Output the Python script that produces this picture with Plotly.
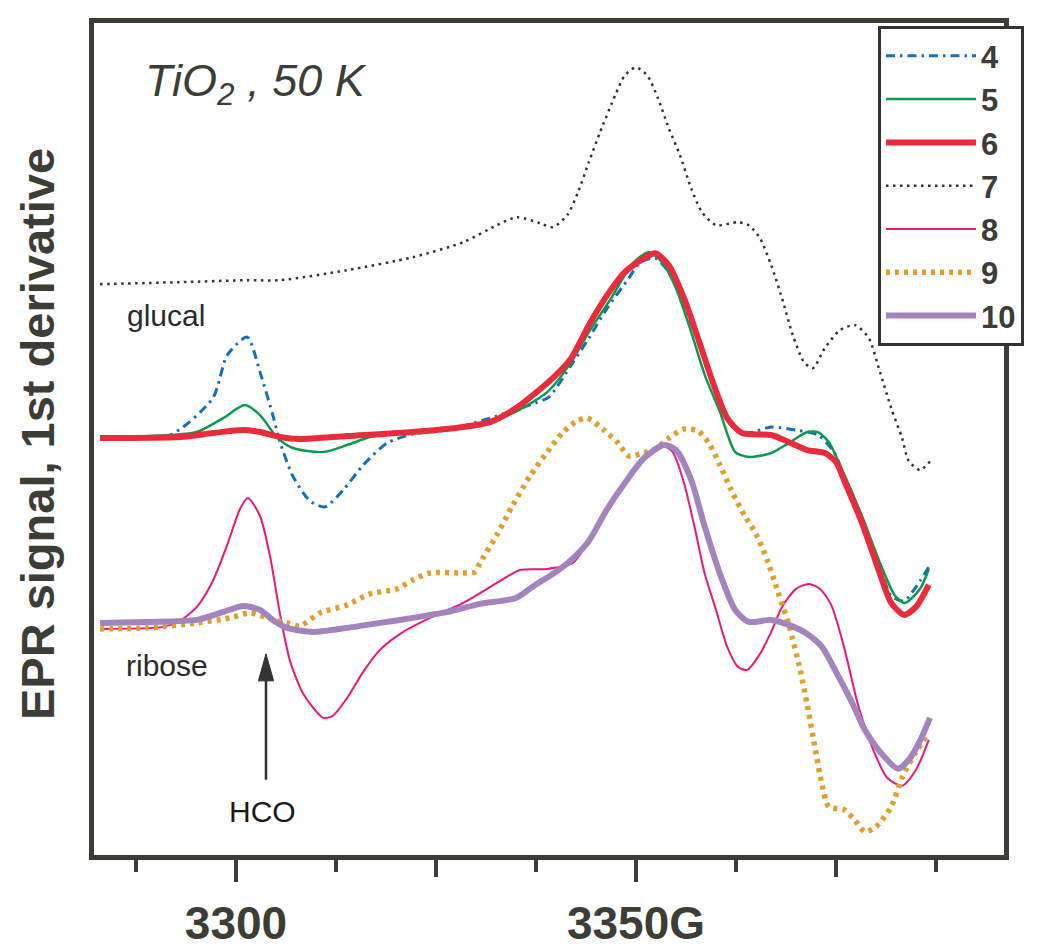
import plotly.graph_objects as go

# ---- data (field in gauss, EPR signal in arbitrary units) ----
names = ["4", "5", "6", "7", "8", "9", "10"]

field_4 = [3283.0, 3291.75, 3297.1, 3298.9, 3301.4, 3303.0, 3304.6, 3305.5, 3307.1, 3309.25, 3311.1, 3313.4,
           3315.9, 3318.9, 3322.1, 3326.4, 3332.6, 3337.4, 3339.1, 3341.9, 3344.1, 3346.4, 3349.1, 3350.5,
           3352.4, 3354.1, 3356.0, 3357.75, 3359.6, 3362.4, 3364.1, 3366.9, 3370.0, 3372.75, 3374.75, 3376.0,
           3378.25, 3380.5, 3381.9, 3383.5, 3385.5, 3386.6]
sig_4 = [419, 422, 459, 502, 520, 485, 442, 415, 381, 356, 350, 367,
         392, 414, 423, 427, 441, 454, 460, 492, 519, 549, 579, 595,
         599, 585, 552, 515, 472, 427, 424, 430, 427, 422, 405, 381,
         337, 290, 261, 256, 276, 290]

field_5 = [3283.0, 3291.75, 3295.1, 3298.4, 3301.1, 3303.0, 3305.1, 3307.1, 3310.9, 3313.9, 3316.75, 3320.1,
           3324.25, 3328.4, 3332.1, 3334.6, 3338.9, 3341.9, 3344.1, 3346.9, 3349.6, 3351.6, 3353.25, 3355.0,
           3356.9, 3358.6, 3360.5, 3362.4, 3364.1, 3366.9, 3369.1, 3371.4, 3372.75, 3374.1, 3375.5, 3378.25,
           3380.5, 3382.4, 3383.6, 3385.5, 3386.6]
sig_5 = [419, 422, 425, 439, 452, 442, 420, 409, 405, 412, 420, 424,
         427, 430, 437, 444, 465, 495, 525, 559, 594, 605, 595, 569,
         525, 482, 445, 405, 400, 404, 414, 425, 425, 415, 392, 341,
         294, 261, 254, 268, 288]

field_6 = [3283.0, 3293.0, 3297.1, 3300.9, 3303.0, 3305.5, 3308.0, 3313.9, 3322.1, 3328.4, 3331.75, 3335.0,
           3339.6, 3341.9, 3344.1, 3346.4, 3348.6, 3351.0, 3352.4, 3354.1, 3356.0, 3357.75, 3359.6, 3361.4,
           3363.25, 3366.9, 3369.1, 3371.4, 3373.6, 3375.0, 3376.0, 3378.25, 3380.5, 3381.9, 3383.5, 3385.0,
           3386.6]
sig_6 = [419, 420, 424, 427, 425, 420, 418, 421, 425, 430, 435, 449,
         479, 499, 532, 562, 585, 599, 604, 592, 559, 519, 475, 439,
         424, 422, 415, 407, 404, 395, 377, 334, 283, 254, 242, 250,
         272]

field_7 = [3283.0, 3293.0, 3301.4, 3305.5, 3313.9, 3322.1, 3328.4, 3332.6, 3335.1, 3338.0, 3339.6, 3341.4,
           3342.75, 3344.1, 3345.5, 3347.4, 3348.6, 3350.0, 3351.4, 3352.75, 3354.1, 3355.5, 3356.9, 3358.25,
           3360.0, 3362.75, 3364.1, 3365.5, 3366.9, 3368.25, 3369.6, 3371.0, 3372.1, 3373.6, 3375.5, 3377.4,
           3379.1, 3380.5, 3381.9, 3383.25, 3384.1, 3385.5, 3386.9]
sig_7 = [573, 575, 577, 577, 587, 600, 615, 632, 640, 634, 630, 642,
         665, 695, 725, 762, 782, 790, 782, 759, 729, 702, 669, 645,
         632, 635, 632, 619, 592, 559, 522, 495, 489, 509, 527, 532,
         519, 485, 449, 419, 396, 387, 397]

field_8 = [3283.0, 3290.9, 3293.0, 3295.1, 3297.1, 3298.9, 3300.5, 3301.5, 3303.0, 3304.25, 3305.5, 3306.75,
           3308.4, 3310.9, 3312.1, 3313.9, 3315.9, 3318.0, 3320.9, 3324.25, 3328.4, 3332.6, 3335.5, 3338.9,
           3342.1, 3344.1, 3346.4, 3348.6, 3350.5, 3352.4, 3353.25, 3354.6, 3356.0, 3357.4, 3358.6, 3360.0,
           3361.4, 3362.75, 3363.9, 3365.5, 3366.9, 3368.25, 3370.0, 3371.6, 3373.0, 3374.4, 3376.0, 3377.75,
           3379.6, 3381.4, 3383.25, 3385.0, 3386.6]
sig_8 = [228, 230, 236, 250, 276, 312, 348, 359, 341, 301, 243, 196,
         163, 139, 141, 159, 185, 207, 225, 239, 254, 274, 287, 288,
         294, 316, 345, 374, 394, 410, 412, 405, 374, 327, 283, 247,
         210, 190, 187, 203, 225, 250, 268, 273, 268, 252, 210, 152,
         108, 79, 71, 87, 117]

field_9 = [3283.0, 3288.9, 3295.1, 3299.25, 3301.75, 3303.9, 3306.4, 3308.0, 3310.5, 3313.9, 3316.75, 3320.1,
           3322.1, 3324.25, 3328.4, 3329.9, 3330.5, 3332.6, 3334.6, 3336.75, 3338.9, 3340.9, 3342.6, 3343.9,
           3346.0, 3347.75, 3349.1, 3350.5, 3352.4, 3354.1, 3356.0, 3357.75, 3359.1, 3360.5, 3361.9, 3363.6,
           3365.0, 3366.4, 3367.75, 3369.1, 3370.5, 3371.4, 3372.4, 3373.25, 3374.1, 3376.0, 3377.4, 3378.6,
           3380.0, 3381.9, 3383.25, 3385.0, 3386.6]
sig_9 = [228, 229, 234, 239, 244, 239, 234, 231, 244, 252, 263, 268,
         277, 284, 284, 285, 294, 322, 352, 381, 405, 425, 436, 439,
         427, 414, 401, 403, 408, 419, 428, 426, 414, 392, 367, 341,
         323, 297, 265, 232, 188, 152, 108, 72, 50, 47, 36, 25,
         30, 50, 79, 105, 123]

field_10 = [3283.0, 3288.9, 3295.1, 3298.4, 3300.9, 3303.0, 3304.6, 3306.4, 3309.6, 3313.9, 3318.0, 3322.1,
            3326.4, 3330.5, 3335.0, 3337.4, 3339.6, 3341.9, 3344.1, 3346.4, 3348.6, 3351.0, 3353.5, 3355.0,
            3356.9, 3358.6, 3360.5, 3362.4, 3364.1, 3366.9, 3369.1, 3371.4, 3373.25, 3375.0, 3376.9, 3378.6,
            3380.5, 3382.75, 3384.1, 3385.5, 3386.75]
sig_10 = [234, 235, 237, 245, 251, 247, 237, 229, 225, 229, 234, 239,
          245, 253, 259, 272, 283, 297, 316, 348, 374, 399, 412, 407,
          377, 330, 283, 247, 235, 237, 232, 223, 210, 185, 156, 127,
          105, 88, 97, 116, 139]

fields = [field_4, field_5, field_6, field_7, field_8, field_9, field_10]
signals = [sig_4, sig_5, sig_6, sig_7, sig_8, sig_9, sig_10]

major_ticks = [3300, 3350]
major_text = ["3300", "3350G"]
mid_ticks = [3325, 3375]
minor_ticks = [3287.5, 3312.5, 3337.5, 3362.5, 3387.5]

# ---- styles ----
colors = ["#1172b9", "#0b9a4b", "#e92b3b", "#333333", "#e8197b", "#e0a12c", "#a384bf"]
widths = [3, 2.5, 6, 2.5, 2, 5.5, 6]
dashes = ["9px,5px,2.5px,5px", "solid", "solid", "2.5px,4.5px", "solid", "4px,5px", "solid"]

INK = "#3d3d38"
FONT = "Liberation Sans, Arial, sans-serif"

fig = go.Figure()
for n, fx, sy, c, w, d in zip(names, fields, signals, colors, widths, dashes):
    fig.add_trace(go.Scatter(
        x=fx, y=sy, name=n, mode="lines",
        line=dict(color=c, width=w, dash=d, shape="spline", smoothing=0.7),
    ))

# helper trace so the overlaid tick axis is drawn
fig.add_trace(go.Scatter(x=[], y=[], xaxis="x2", showlegend=False, hoverinfo="skip"))

XR = [3282.25, 3396.0]
YR = [1.7, 834.4]

fig.update_layout(
    width=1050, height=951,
    margin=dict(l=86, r=54, t=10, b=91),
    paper_bgcolor="white", plot_bgcolor="white",
    font=dict(family=FONT, color=INK),
    xaxis=dict(
        range=XR, showgrid=False, zeroline=False,
        showline=True, mirror=True, linecolor=INK, linewidth=5,
        tickmode="array", tickvals=major_ticks, ticktext=major_text,
        ticks="outside", ticklen=22, tickwidth=4, tickcolor=INK,
        tickfont=dict(family=FONT, size=46, color=INK, weight="bold"),
        ticklabelstandoff=2,
        minor=dict(tickmode="array", tickvals=minor_ticks, ticks="outside",
                   ticklen=12, tickwidth=4, tickcolor=INK),
    ),
    xaxis2=dict(
        range=XR, overlaying="x", anchor="y", side="bottom",
        showgrid=False, zeroline=False, showline=False,
        tickmode="array", tickvals=mid_ticks, ticks="outside", ticklen=21,
        tickwidth=4, tickcolor=INK, showticklabels=False,
    ),
    yaxis=dict(
        range=YR, showgrid=False, zeroline=False,
        showline=True, mirror=True, linecolor=INK, linewidth=5,
        ticks="", showticklabels=False,
    ),
    showlegend=True,
    legend=dict(
        x=(878 - 94) / 910, y=0.9962, xanchor="left", yanchor="top",
        bgcolor="white", bordercolor="#333333", borderwidth=3,
        font=dict(family=FONT, size=31, color=INK, weight="bold"),
        itemwidth=90, tracegroupgap=0,
    ),
)


def px_x(p):
    return (p - 94) / 910


def px_y(p):
    return (860 - (p - 7.8) / 0.9797) / 850


annots = [
    dict(text="TiO<sub>2</sub> , 50 K", x=px_x(143), y=px_y(78), xanchor="left", yanchor="middle",
         font=dict(size=45, style="italic", color=INK)),
    dict(text="glucal", x=px_x(166), y=px_y(310), xanchor="center", yanchor="middle",
         font=dict(size=30, color="#2b2b2b")),
    dict(text="ribose", x=px_x(167), y=px_y(661), xanchor="center", yanchor="middle",
         font=dict(size=30, color="#2b2b2b")),
    dict(text="HCO", x=px_x(262), y=px_y(807), xanchor="center", yanchor="middle",
         font=dict(size=30, color="#1a1a1a")),
    dict(text="EPR signal, 1st derivative", x=px_x(37), y=px_y(429), xanchor="center", yanchor="middle",
         textangle=-90, font=dict(size=47, color=INK, weight="bold")),
]
for a in annots:
    a.update(xref="paper", yref="paper", showarrow=False)
    fig.add_annotation(**a)

# arrow pointing to the HCO feature
arrow_x = 3303.75
arrow_tail, arrow_base, arrow_tip = 77, 176, 203
half_w = 0.95
fig.add_shape(type="line", x0=arrow_x, x1=arrow_x, y0=arrow_tail, y1=arrow_base + 2,
              line=dict(color="#333333", width=2.5))
fig.add_shape(type="path",
              path=f"M {arrow_x - half_w},{arrow_base} L {arrow_x},{arrow_tip} L {arrow_x + half_w},{arrow_base} Z",
              fillcolor="#333333", line=dict(color="#333333", width=1))

fig.write_html("out.html")
